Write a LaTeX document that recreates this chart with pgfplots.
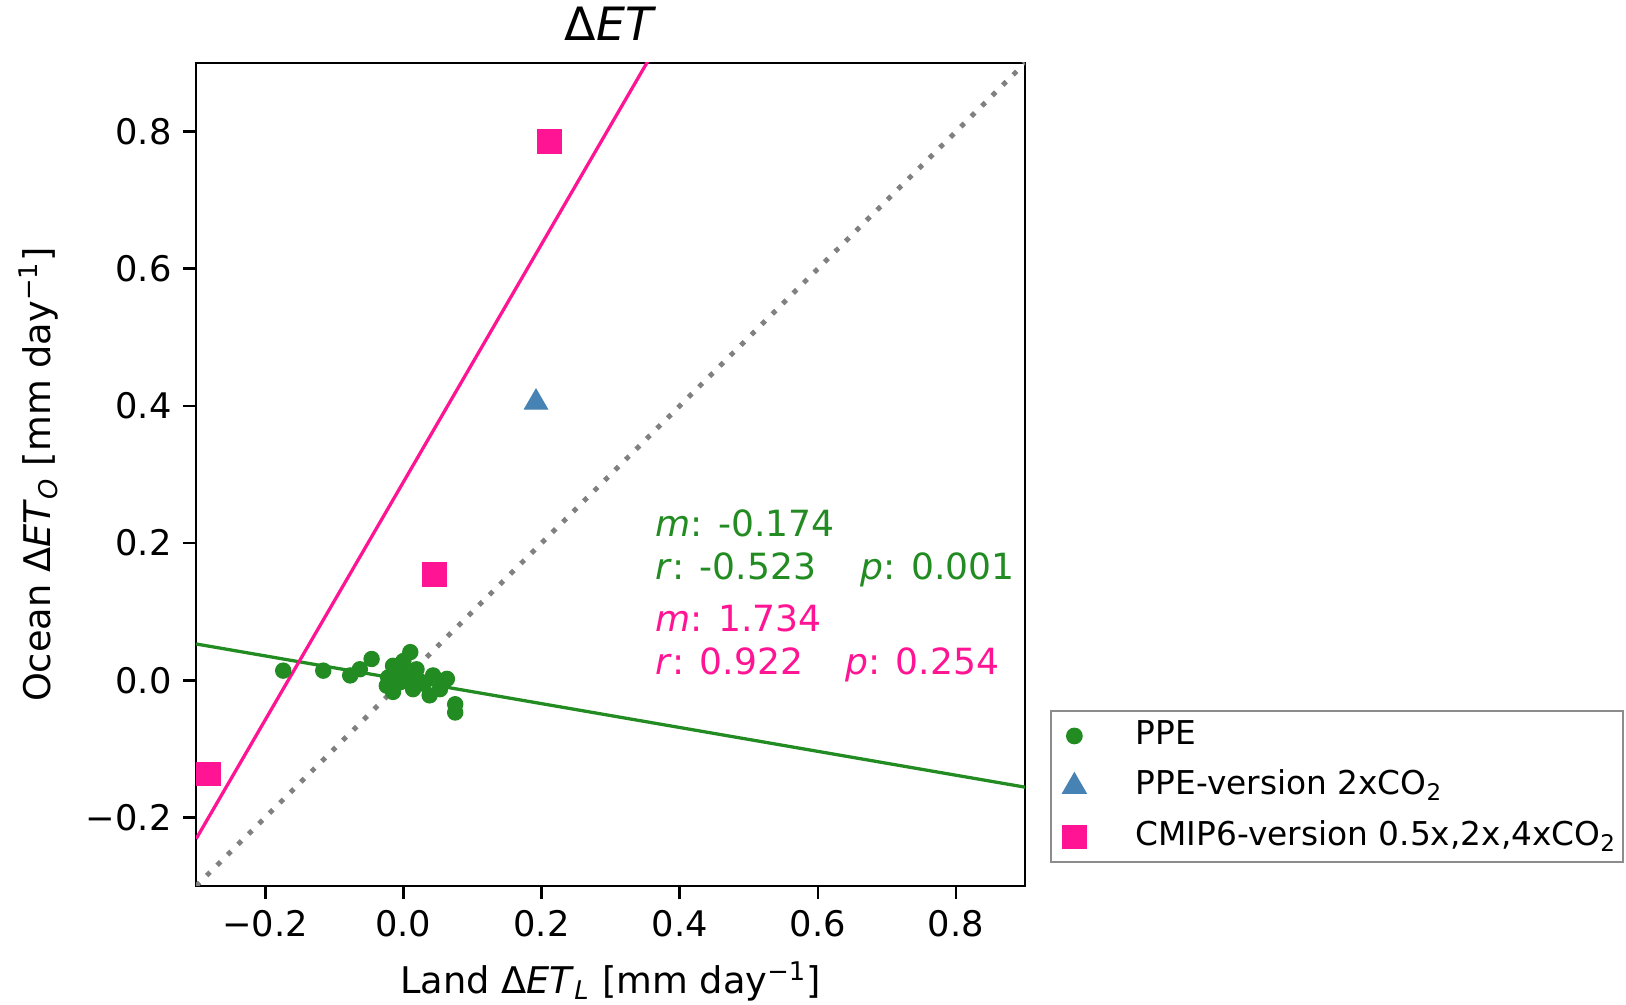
\documentclass[border=0pt]{standalone}
\usepackage{fontspec}
\setmainfont{DejaVu Sans}
\usepackage{pgfplots}
\pgfplotsset{compat=1.18}
\definecolor{pgreen}{RGB}{34,139,34}
\definecolor{ppink}{RGB}{255,20,147}
\definecolor{pblue}{RGB}{70,130,180}
\begin{document}
\begin{tikzpicture}
\begin{axis}[
  scale only axis, width=252.7pt, height=250.9pt,
  xmin=-0.3, xmax=0.9, ymin=-0.3, ymax=0.9,
  xtick={-0.2,0,0.2,0.4,0.6,0.8}, xticklabels={−0.2,0.0,0.2,0.4,0.6,0.8},
  ytick={-0.2,0,0.2,0.4,0.6,0.8}, yticklabels={−0.2,0.0,0.2,0.4,0.6,0.8},
  tick pos=left, tick align=outside, major tick length=4pt,
  every tick/.style={black, line width=0.8pt},
  axis line style={line width=0.82pt},
  tick label style={font=\fontsize{10.75}{12}\selectfont},
  title={Δ\textit{ET}},
  title style={font=\fontsize{14}{16}\selectfont, at={(0.5,1)}, anchor=center, yshift=6pt},
  xlabel={Land Δ\textit{ET}\textsubscript{\textit{L}} [mm day\textsuperscript{−1}]},
  ylabel={Ocean Δ\textit{ET}\textsubscript{\textit{O}} [mm day\textsuperscript{−1}]},
  every axis x label/.style={at={(axis description cs:0.5,-0.1156)}, anchor=center, font=\fontsize{11.2}{13}\selectfont},
  every axis y label/.style={at={(axis description cs:-0.190,0.5)}, anchor=center, rotate=90, font=\fontsize{11.2}{13}\selectfont},
  clip marker paths=false,
  legend style={at={(1.030,0.2136)}, anchor=north west, draw=black!45, line width=0.5pt,
    font=\fontsize{10}{12}\selectfont, inner xsep=0pt, inner ysep=0.65pt,
    row sep=1.5pt, column sep=11.1pt,
    nodes={inner sep=2pt, text height=7.5pt, text depth=2.4pt}},
  legend cell align=left,
  legend image code/.code={\path[draw=none] (-7.2pt,0pt) -- (5.6pt,0pt); \draw[#1,draw=none] plot coordinates {(0pt,0pt)};},
]
\addplot[only marks, mark=*, mark size=2.3pt, color=pgreen, mark options={draw=pgreen, fill=pgreen}] coordinates {
(-0.174,0.014) (-0.116,0.014) (-0.077,0.007) (-0.063,0.016) (-0.046,0.031)
(-0.015,0.021) (-0.022,0.004) (-0.024,-0.008) (-0.015,-0.017) (0.010,0.041)
(0.007,0.007) (-0.005,-0.003) (0.019,0.016) (0.014,-0.013) (0.043,0.007)
(0.038,-0.022) (0.063,0.002) (0.053,-0.013) (0.075,-0.035) (0.075,-0.047)
(0.029,-0.005) (-0.010,0.012) (0.000,0.028) (0.022,0.000)
};
\addlegendentry{PPE}
\addplot[only marks, mark=triangle*, mark size=4pt, color=pblue, mark options={draw=pblue, fill=pblue}] coordinates {(0.192,0.405)};
\addlegendentry{PPE-version 2xCO\textsubscript{2}}
\addplot[only marks, mark=square*, mark size=3.5pt, color=ppink, mark options={draw=ppink, fill=ppink}] coordinates {(0.2115,0.7855) (0.045,0.154) (-0.282,-0.137)};
\addlegendentry{CMIP6-version 0.5x,2x,4xCO\textsubscript{2}}
\addplot[forget plot, pgreen, line width=1pt] coordinates {(-0.3,0.0529) (0.9,-0.1559)};
\addplot[forget plot, ppink, line width=1pt] coordinates {(-0.3,-0.2312) (0.9,1.8496)};
\addplot[forget plot, black!50, line width=1.5pt, dash pattern=on 1.5pt off 3pt] coordinates {(-0.3,-0.3) (0.9,0.9)};
\node[anchor=base west, inner sep=0pt, text=pgreen, font=\fontsize{11}{13}\selectfont] at (axis cs:0.3645,0.210) {\textit{m}: -0.174};
\node[anchor=base west, inner sep=0pt, text=pgreen, font=\fontsize{11}{13}\selectfont] at (axis cs:0.3645,0.1464) {\textit{r}: -0.523};
\node[anchor=base west, inner sep=0pt, text=pgreen, font=\fontsize{11}{13}\selectfont] at (axis cs:0.6615,0.1464) {\textit{p}: 0.001};
\node[anchor=base west, inner sep=0pt, text=ppink, font=\fontsize{11}{13}\selectfont] at (axis cs:0.3645,0.071) {\textit{m}: 1.734};
\node[anchor=base west, inner sep=0pt, text=ppink, font=\fontsize{11}{13}\selectfont] at (axis cs:0.3645,0.0091) {\textit{r}: 0.922};
\node[anchor=base west, inner sep=0pt, text=ppink, font=\fontsize{11}{13}\selectfont] at (axis cs:0.639,0.0091) {\textit{p}: 0.254};
\end{axis}
\pgfresetboundingbox
\path[use as bounding box] (-59.8pt,-36pt) rectangle (435.9pt,270.1pt);
\end{tikzpicture}
\end{document}
